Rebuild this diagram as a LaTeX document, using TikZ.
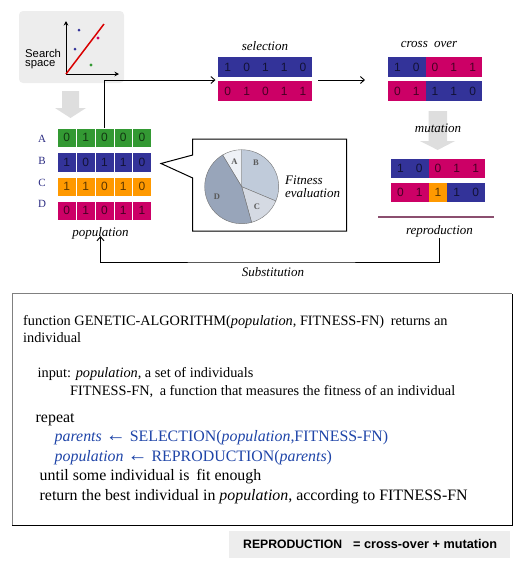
\documentclass[tikz,border=0pt]{standalone}
\usepackage{fontspec}
\setmainfont{Liberation Serif}
\setsansfont{Liberation Sans}
\usepackage{tikz}
\usetikzlibrary{arrows.meta}
\definecolor{gagreen}{HTML}{339933}
\definecolor{ganavy}{HTML}{333399}
\definecolor{gaorange}{HTML}{FF9900}
\definecolor{gapink}{HTML}{CC0066}
\definecolor{gablue}{HTML}{1F45A8}

\begin{document}
\begin{tikzpicture}[x=1pt, y=-1pt,
    bit/.style = {minimum width=18.8pt, minimum height=19.5pt, inner sep=0pt, text=black, text opacity=0.65, font=\sffamily\fontsize{12}{12}\selectfont},
    popbit/.style = {bit, draw=white, line width=0.5pt},
    caption/.style = {font=\itshape\fontsize{13}{13}\selectfont, inner sep=0pt},
    rowname/.style = {text=ganavy!85!black, font=\fontsize{11}{11}\selectfont, inner sep=0pt},
    slicename/.style = {text=black!65, font=\bfseries\fontsize{8.5}{8.5}\selectfont, inner sep=0pt},
    codeline/.style = {anchor=base west, inner sep=0pt, font=\fontsize{14.3}{15}\selectfont},
    bigline/.style = {codeline, font=\fontsize{15.9}{16}\selectfont},
    flow/.style = {draw=black, line width=0.9pt, -{Straight Barb[length=4pt,width=7pt]}},
    bigarrow/.style = {fill=black!13, draw=none}]
    \useasboundingbox (0,0) rectangle (527,566);

    % Search space
    \fill[black!7, rounded corners=4pt] (19,11) rectangle (124,83);
    \coordinate (origin) at (66,74);
    \coordinate (yend) at (66,21);
    \coordinate (xend) at (119,74);
    \draw[line width=0.8pt, -{Stealth[length=4.5pt,width=4.5pt]}] (origin) -- (yend);
    \draw[line width=0.8pt, -{Stealth[length=4.5pt,width=4.5pt]}] (origin) -- (xend);
    \draw[red!85!black, line width=1.5pt] (origin) -- (104,24);
    \fill[ganavy] (79,30) circle (1.5pt);
    \fill[gapink] (98,38) circle (1.7pt);
    \fill[ganavy] (75,49) circle (1.5pt);
    \fill[gagreen] (91,65) circle (1.7pt);
    \node[inner sep=0pt, align=left, anchor=west, font=\sffamily\fontsize{11.3}{9.8}\selectfont] (searchspace) at (25,59) {Search\\space};

    \fill[bigarrow] (62,91) -- (79,91) -- (79,108) -- (86,108) -- (70.5,118) -- (55,108) -- (62,108) -- cycle;

    % Population
    \foreach \nm/\yy/\col/\bits in {A/137.5/gagreen/{0,1,0,0,0}, B/162/ganavy/{1,0,1,1,0}, C/186.5/gaorange/{1,1,0,1,0}, D/210.5/gapink/{0,1,0,1,1}} {
        \foreach \b [count=\i] in \bits {
            \node[popbit, fill=\col] (\nm\i) at (48+\i*18.8, \yy) {\b};
        }
    }
    \node[rowname] (nameA) at (42,139) {A};
    \node[rowname] (nameB) at (42,161) {B};
    \node[rowname] (nameC) at (42,183) {C};
    \node[rowname] (nameD) at (42,204) {D};
    \node[caption] (population) at (100.5,233) {population};

    % Selection
    \node[caption] (selection) at (265,46.5) {selection};
    \foreach \b [count=\i] in {1,0,1,1,0} {
        \node[bit, fill=ganavy] (sa\i) at (209+\i*18.8, 67) {\b};
    }
    \foreach \b [count=\i] in {0,1,0,1,1} {
        \node[bit, fill=gapink] (sb\i) at (209+\i*18.8, 91) {\b};
    }
    \coordinate (selin) at (215.5,80);
    \coordinate (selout) at (318,80);
    \coordinate (crossin) at (365,80);
    \draw[flow] (A3.north) |- (selin);
    \draw[flow] (selout) -- (crossin);

    % Cross over
    \node[caption] (crossover) at (429,44) {cross\hspace{3pt} over};
    \foreach \b/\col [count=\i] in {1/ganavy,0/ganavy,0/gapink,1/gapink,1/gapink} {
        \node[bit, fill=\col] (ca\i) at (378.6+\i*18.8, 67) {\b};
    }
    \foreach \b/\col [count=\i] in {0/gapink,1/gapink,1/ganavy,1/ganavy,0/ganavy} {
        \node[bit, fill=\col] (cb\i) at (378.6+\i*18.8, 91) {\b};
    }

    % Mutation
    \fill[bigarrow] (428.5,111) -- (447,111) -- (447,141) -- (455,141) -- (437.7,150) -- (420,141) -- (428.5,141) -- cycle;
    \node[caption] (mutation) at (438,128) {mutation};
    \foreach \b/\col [count=\i] in {1/ganavy,0/ganavy,0/gapink,1/gapink,1/gapink} {
        \node[bit, fill=\col] (ma\i) at (381.6+\i*18.8, 168.5) {\b};
    }
    \foreach \b/\col [count=\i] in {0/gapink,1/gapink,1/gaorange,1/ganavy,0/ganavy} {
        \node[bit, fill=\col] (mb\i) at (381.6+\i*18.8, 192.5) {\b};
    }
    \coordinate (barleft) at (378,217);
    \coordinate (barright) at (494,217);
    \draw[draw={rgb,255:red,139;green,79;blue,111}, line width=1.3pt] (barleft) -- (barright);
    \node[caption] (reproduction) at (439.5,231) {reproduction};

    % Substitution
    \coordinate (subcorner) at (273,262);
    \draw[flow] (reproduction.south) ++(0,1) |- (subcorner) -| ([yshift=3pt]population.south);
    \node[caption] (substitution) at (273,272.5) {Substitution};

    % Fitness evaluation
    \draw[line width=1pt, line join=miter, fill=white] (192.7,139) -- (346.7,139) -- (346.7,231) -- (192.7,231) -- (192.7,178) -- (161,163.5) -- (192.7,155) -- cycle;
    \begin{scope}[shift={(241.7,186.7)}, y=1pt, draw=black!55]
        \filldraw[fill={rgb,255:red,238;green,241;blue,246}] (0,0) -- (121:37) arc (121:90:37) -- cycle;
        \filldraw[fill={rgb,255:red,192;green,203;blue,218}] (0,0) -- (90:37) arc (90:-22.7:37) -- cycle;
        \filldraw[fill={rgb,255:red,213;green,218;blue,227}] (0,0) -- (-22.7:37) arc (-22.7:-74.5:37) -- cycle;
        \filldraw[fill={rgb,255:red,152;green,165;blue,186}] (0,0) -- (-74.5:37) arc (-74.5:-239:37) -- cycle;
    \end{scope}
    \node[slicename] (sliceA) at (234.5,161.5) {A};
    \node[slicename] (sliceB) at (256,163) {B};
    \node[slicename] (sliceC) at (257,207) {C};
    \node[slicename] (sliceD) at (217,197) {D};
    \node[inner sep=0pt, anchor=west, align=left, font=\itshape\fontsize{13}{12.5}\selectfont] (fitness) at (285,187) {Fitness\\evaluation};

    % Algorithm
    \draw[black!50, line width=1pt] (12,525) -- (12,293.5) -- (512,293.5);
    \draw[black, line width=1pt] (12,525) -- (512,525) -- (512,293.5);
    \node[codeline] (line1) at (23,325) {function GENETIC-ALGORITHM(\textit{population}, FITNESS-FN)\hspace{3pt} returns an};
    \node[codeline] (line2) at (23,342.7) {individual};
    \node[codeline] (line3) at (37.5,377.7) {input: \textit{population}, a set of individuals};
    \node[codeline] (line4) at (70,395) {FITNESS-FN,\hspace{3pt} a function that measures the fitness of an individual};
    \node[bigline] (line5) at (35.5,422.7) {repeat};
    \node[bigline, text=gablue] (line6) at (54.5,441.7) {\textit{parents} {\fontsize{20}{16}\selectfont\textbf{←}} SELECTION(\textit{population},FITNESS-FN)};
    \node[bigline, text=gablue] (line7) at (54.5,461) {\textit{population} {\fontsize{20}{16}\selectfont\textbf{←}} REPRODUCTION(\textit{parents})};
    \node[bigline] (line8) at (39.5,480.7) {until some individual is\hspace{3pt} fit enough};
    \node[bigline] (line9) at (39.5,500) {return the best individual in \textit{population}, according to FITNESS-FN};

    % Note
    \fill[black!7] (229,530.5) rectangle (509.5,557.5);
    \node[inner sep=0pt, anchor=base west, font=\sffamily\bfseries\fontsize{12.2}{12}\selectfont] (note) at (243,548) {REPRODUCTION\hspace{11pt}{\fontsize{12.7}{12}\selectfont = cross-over + mutation}};
\end{tikzpicture}
\end{document}
